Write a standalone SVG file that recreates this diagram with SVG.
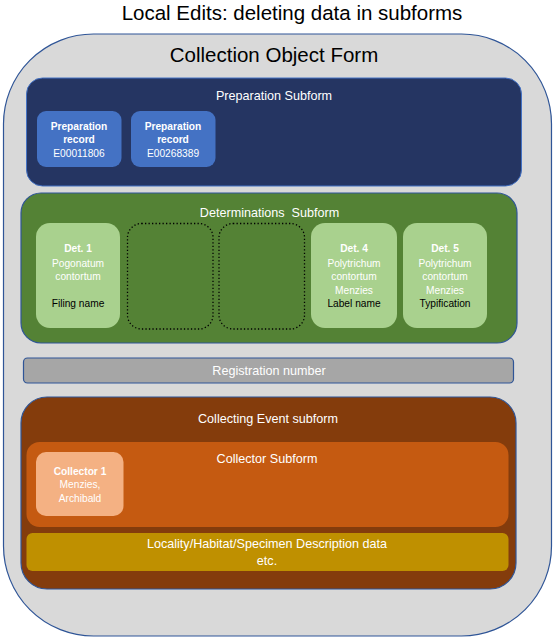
<svg xmlns="http://www.w3.org/2000/svg" width="554" height="642" viewBox="0 0 554 642">
<style>
text{font-family:"Liberation Sans",Arial,sans-serif;text-anchor:middle}
.w{fill:#ffffff}
.k{fill:#000000}
.b{font-weight:bold}
.s{font-size:10.2px}
.m{font-size:12.6px}
.l{font-size:20.5px}
.frame{stroke:#2f5597;stroke-width:1.2}
.dot{fill:#548235;stroke:#000;stroke-width:1.3;stroke-dasharray:1.3 2.2}
</style>
<rect width="554" height="642" fill="#ffffff"/>
<text class="l k" x="292" y="20">Local Edits: deleting data in subforms</text>
<g id="collection-object-form">
<rect class="frame" x="3.5" y="34" width="548" height="602" rx="90" ry="90" fill="#d9d9d9"/>
<text class="l k" x="274" y="62">Collection Object Form</text>
</g>
<g id="preparation-subform">
<rect x="26.5" y="78" width="495" height="108" rx="16" fill="#253562" stroke="#4472c4" stroke-width="1"/>
<text class="m w" x="274" y="100">Preparation Subform</text>
</g>
<g id="prep-record-1">
<rect x="37" y="111" width="84.5" height="56" rx="9" fill="#4472c4"/>
<text class="s w b" x="79" y="130">Preparation</text>
<text class="s w b" x="79" y="143">record</text>
<text class="s w" x="79" y="157">E00011806</text>
</g>
<g id="prep-record-2">
<rect x="131" y="111" width="84.5" height="56" rx="9" fill="#4472c4"/>
<text class="s w b" x="173" y="130">Preparation</text>
<text class="s w b" x="173" y="143">record</text>
<text class="s w" x="173" y="157">E00268389</text>
</g>
<g id="determinations-subform">
<rect class="frame" x="21" y="193" width="496" height="150" rx="20" fill="#548235"/>
<text class="m w" x="269.5" y="217" xml:space="preserve">Determinations  Subform</text>
</g>
<g id="det-1">
<rect x="36" y="223" width="84" height="105" rx="14" fill="#a9d18e"/>
<text class="s w b" x="78" y="252">Det. 1</text>
<text class="s w" x="78" y="267">Pogonatum</text>
<text class="s w" x="78" y="280">contortum</text>
<text class="s k" x="78" y="307">Filing name</text>
</g>
<g id="det-2-deleted">
<rect class="dot" x="127.5" y="223.5" width="85.5" height="105.5" rx="14"/>
</g>
<g id="det-3-deleted">
<rect class="dot" x="219" y="223.5" width="85.5" height="105.5" rx="14"/>
</g>
<g id="det-4">
<rect x="311" y="223" width="86" height="105" rx="14" fill="#a9d18e"/>
<text class="s w b" x="354" y="252">Det. 4</text>
<text class="s w" x="354" y="267">Polytrichum</text>
<text class="s w" x="354" y="280">contortum</text>
<text class="s w" x="354" y="294">Menzies</text>
<text class="s k" x="354" y="307">Label name</text>
</g>
<g id="det-5">
<rect x="403" y="223" width="84" height="105" rx="14" fill="#a9d18e"/>
<text class="s w b" x="445" y="252">Det. 5</text>
<text class="s w" x="445" y="267">Polytrichum</text>
<text class="s w" x="445" y="280">contortum</text>
<text class="s w" x="445" y="294">Menzies</text>
<text class="s k" x="445" y="307">Typification</text>
</g>
<g id="registration-number">
<rect class="frame" x="23.5" y="358" width="490" height="25" rx="4" fill="#a6a6a6"/>
<text class="m w" x="269" y="375">Registration number</text>
</g>
<g id="collecting-event-subform">
<rect class="frame" x="21" y="397" width="495" height="192" rx="26" fill="#843c0c"/>
<text class="m w" x="268" y="423">Collecting Event subform</text>
</g>
<g id="collector-subform">
<rect x="26.5" y="442" width="482" height="85" rx="13" fill="#c55a11"/>
<text class="m w" x="267" y="463">Collector Subform</text>
</g>
<g id="collector-1">
<rect x="36" y="452" width="87.5" height="64" rx="10" fill="#f4b183"/>
<text class="s w b" x="80" y="475">Collector 1</text>
<text class="s w" x="80" y="488">Menzies,</text>
<text class="s w" x="80" y="502">Archibald</text>
</g>
<g id="locality-data">
<rect x="26.5" y="533" width="482" height="38" rx="6" fill="#bf9000"/>
<text class="m w" x="267" y="548">Locality/Habitat/Specimen Description data</text>
<text class="m w" x="267" y="565">etc.</text>
</g>
<g id="connectors"></g>
</svg>
